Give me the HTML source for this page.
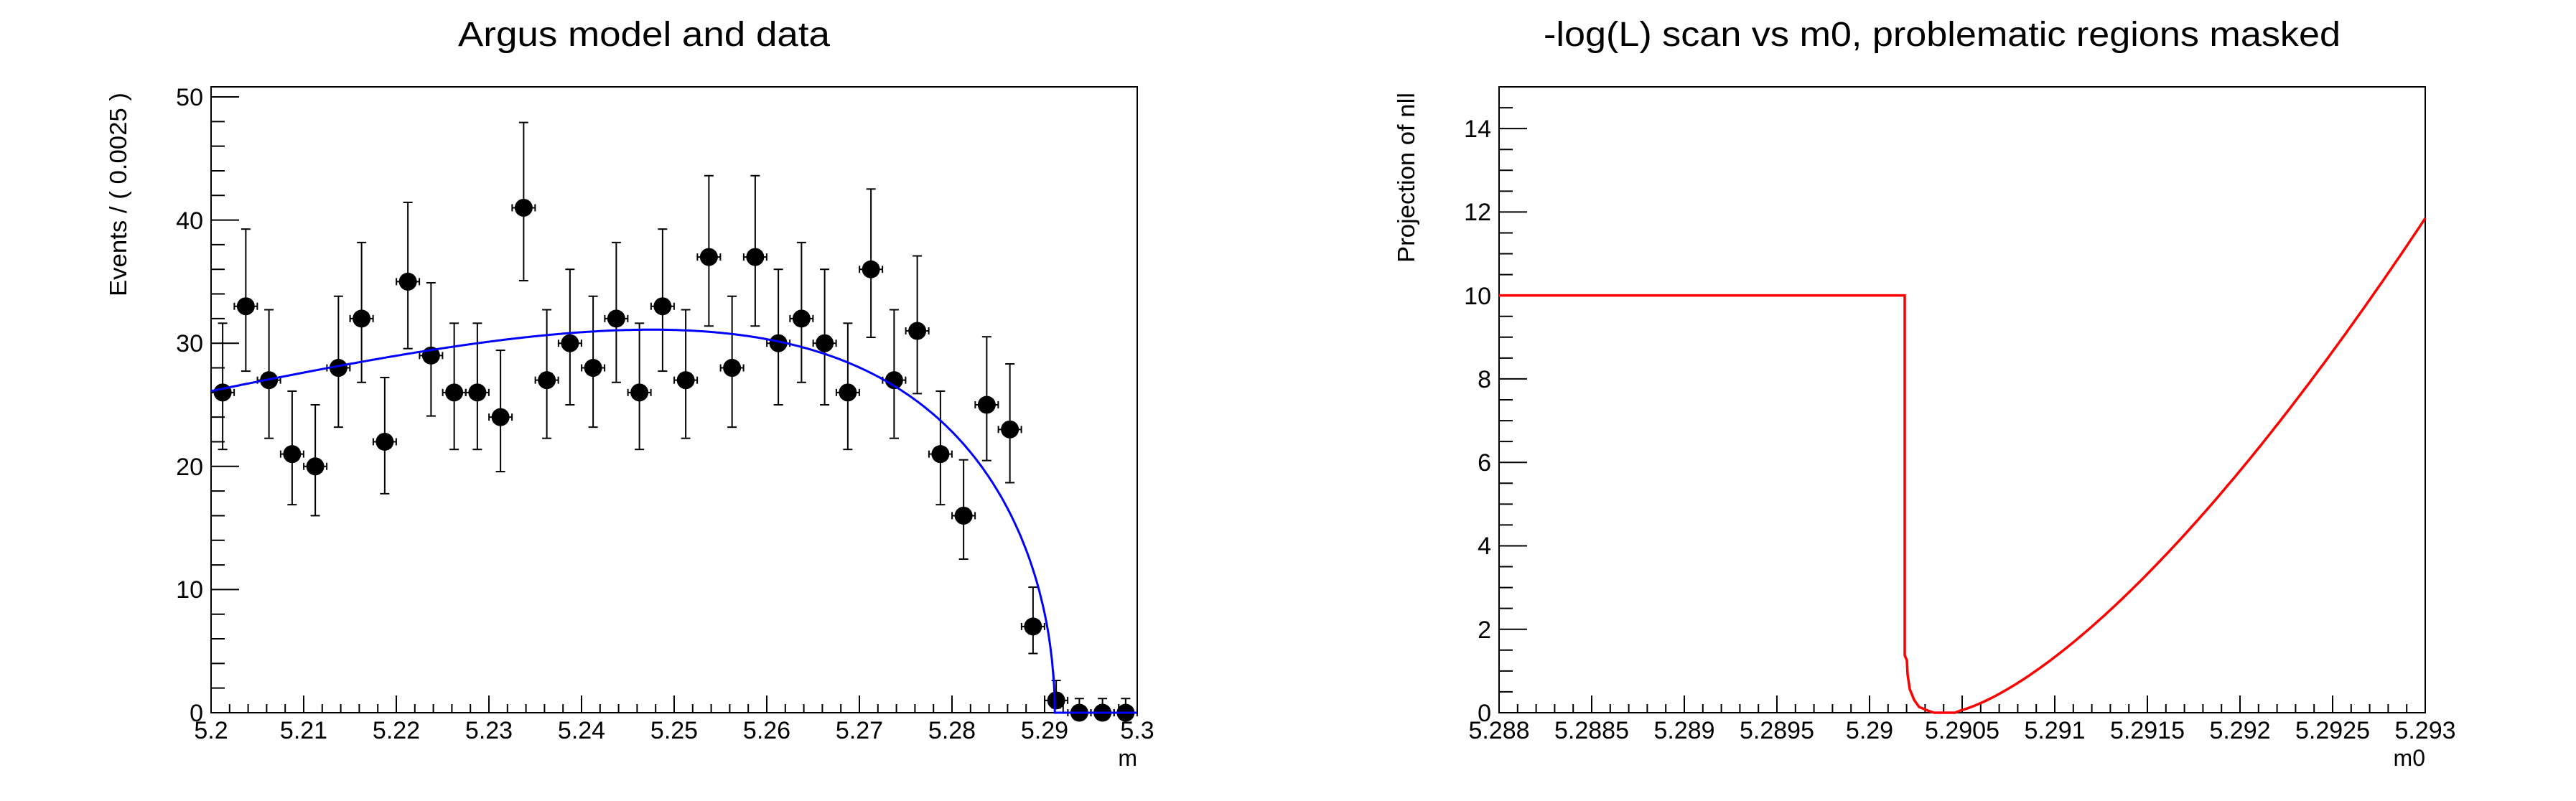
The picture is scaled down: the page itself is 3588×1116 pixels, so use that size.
<!DOCTYPE html>
<html><head><meta charset="utf-8"><style>
html,body{margin:0;padding:0;background:#fff;}
svg{display:block;}
text{font-family:"Liberation Sans",Arial,sans-serif;fill:#000;}
</style></head><body>
<svg id="s" width="3588" height="1116" viewBox="0 0 3588 1116" xmlns="http://www.w3.org/2000/svg">
<rect width="3588" height="1116" fill="#fff"/>
<text x="897" y="64" font-size="48" text-anchor="middle" textLength="518" lengthAdjust="spacingAndGlyphs">Argus model and data</text>
<text x="2705" y="64" font-size="48" text-anchor="middle" textLength="1110" lengthAdjust="spacingAndGlyphs">-log(L) scan vs m0, problematic regions masked</text>
<rect x="294" y="121" width="1290" height="872" fill="none" stroke="#000" stroke-width="2"/>
<rect x="2088" y="121" width="1290" height="872" fill="none" stroke="#000" stroke-width="2"/>
<g id="ticks" stroke="#000" stroke-width="2"></g>
<text transform="translate(176,413) rotate(-90)" font-size="33" textLength="284" lengthAdjust="spacingAndGlyphs">Events / ( 0.0025 )</text>
<text transform="translate(1970,366) rotate(-90)" font-size="33" textLength="237" lengthAdjust="spacingAndGlyphs">Projection of nll</text>
<text x="1584" y="1067" font-size="32" text-anchor="end">m</text>
<text x="3378" y="1067" font-size="32" text-anchor="end">m0</text>
<g font-size="34" text-anchor="end">
<text x="283" y="1005">0</text>
<text x="283" y="833">10</text>
<text x="283" y="662">20</text>
<text x="283" y="490">30</text>
<text x="283" y="319">40</text>
<text x="283" y="147">50</text>
<text x="2077" y="1005">0</text>
<text x="2077" y="889">2</text>
<text x="2077" y="772">4</text>
<text x="2077" y="656">6</text>
<text x="2077" y="540">8</text>
<text x="2077" y="424">10</text>
<text x="2077" y="307">12</text>
<text x="2077" y="191">14</text>
</g>
<g font-size="34" text-anchor="middle">
<text x="294" y="1029">5.2</text>
<text x="423" y="1029">5.21</text>
<text x="552" y="1029">5.22</text>
<text x="681" y="1029">5.23</text>
<text x="810" y="1029">5.24</text>
<text x="939" y="1029">5.25</text>
<text x="1068" y="1029">5.26</text>
<text x="1197" y="1029">5.27</text>
<text x="1326" y="1029">5.28</text>
<text x="1455" y="1029">5.29</text>
<text x="1584" y="1029">5.3</text>
<text x="2088" y="1029">5.288</text>
<text x="2217" y="1029">5.2885</text>
<text x="2346" y="1029">5.289</text>
<text x="2475" y="1029">5.2895</text>
<text x="2604" y="1029">5.29</text>
<text x="2733" y="1029">5.2905</text>
<text x="2862" y="1029">5.291</text>
<text x="2991" y="1029">5.2915</text>
<text x="3120" y="1029">5.292</text>
<text x="3249" y="1029">5.2925</text>
<text x="3378" y="1029">5.293</text>
</g>
<g id="data"></g>
<path id="blue" fill="none" stroke="#0000ff" stroke-width="3"/>
<path id="red" fill="none" stroke="#ff0000" stroke-width="3.5"/>
</svg>
<script>
var NS="http://www.w3.org/2000/svg";
function ln(g,x1,y1,x2,y2){var l=document.createElementNS(NS,"line");l.setAttribute("x1",x1);l.setAttribute("y1",y1);l.setAttribute("x2",x2);l.setAttribute("y2",y2);g.appendChild(l);}
var T=document.getElementById("ticks");
for(var i=0;i<=50;i++){var x=294+1290*i/50;ln(T,x,993,x,993-(i%5==0?24:12));}
for(var i=0;i<=50;i++){var x=2088+1290*i/50;ln(T,x,993,x,993-(i%5==0?24:12));}
for(var v=0;v<=50;v+=2){var y=993-v*17.16;ln(T,294,y,294+(v%10==0?39:19),y);}
for(var k=0;k<=30;k++){var v=k*0.5;var y=993-v*58.133;if(y<121)break;ln(T,2088,y,2088+(k%4==0?39:19),y);}
var vals=[26,33,27,21,20,28,32,22,35,29,26,26,24,41,27,30,28,32,26,33,27,37,28,37,30,32,30,26,36,27,31,21,16,25,23,7,1,0,0,0];
var D=document.getElementById("data");D.setAttribute("stroke","#000");D.setAttribute("stroke-width","2");
function X(m){return 294+(m-5.2)*12900;}function Y(v){return 993-v*17.16;}
for(var i=0;i<40;i++){var n=vals[i];var m=5.20125+0.0025*i;var cx=X(m),cy=Y(n);
var s=Math.sqrt(n+0.25);var hi=n+0.5+s,lo=Math.max(0,n+0.5-s);if(n==0){hi=1.15;lo=0;}
ln(D,cx,Y(hi),cx,Y(lo));ln(D,cx-6.5,Y(hi),cx+6.5,Y(hi));if(lo>0)ln(D,cx-6.5,Y(lo),cx+6.5,Y(lo));
ln(D,cx-16,cy,cx+16,cy);ln(D,cx-16,cy-5,cx-16,cy+5);ln(D,cx+16,cy-5,cx+16,cy+5);
var c=document.createElementNS(NS,"circle");c.setAttribute("cx",cx);c.setAttribute("cy",cy);c.setAttribute("r",12.5);c.setAttribute("fill","#000");c.setAttribute("stroke","none");D.appendChild(c);}
var m0=5.2911,cc=-30;function f(m){var t=1-(m/m0)*(m/m0);if(t<=0)return 0;return m*Math.sqrt(t)*Math.exp(cc*t);}
var tp=1/60,mp=m0*Math.sqrt(1-tp),N=31.1/f(mp);
var d="";for(var m=5.2;m<m0;m+=0.0002){d+=(d?"L":"M")+X(m).toFixed(1)+","+Y(N*f(m)).toFixed(1);}
for(var m=m0-0.0002;m<m0;m+=0.00001){d+="L"+X(m).toFixed(1)+","+Y(N*f(m)).toFixed(1);}
d+="L"+X(m0).toFixed(1)+","+Y(0)+"L1584,"+Y(0);
document.getElementById("blue").setAttribute("d",d);
function RX(m){return 2088+(m-5.288)*258000;}function RY(v){return 993-v*58.133;}
var r="M2088,"+RY(10)+"L2653,"+RY(10)+"L2653,913 L2656,920 L2657,940 L2660,960 L2666,975 L2673,985 L2685,990 L2694,993 L2723,993";
for(var m=5.29049;m<=5.293;m+=0.00002){var v=11.85*Math.pow((m-5.29043)/0.00257,1.45);r+="L"+RX(m).toFixed(1)+","+RY(v).toFixed(1);}
r+="L3378,"+RY(11.85).toFixed(1);
document.getElementById("red").setAttribute("d",r);
</script>
</body></html>
